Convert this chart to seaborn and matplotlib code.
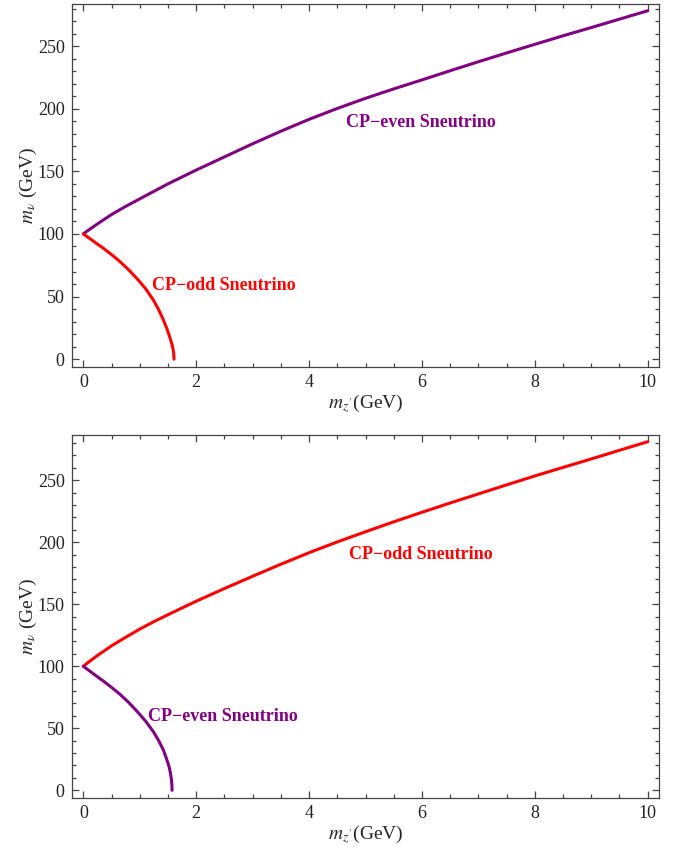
import numpy as np
import pandas as pd
import seaborn as sns
import matplotlib.pyplot as plt
from matplotlib.ticker import MultipleLocator

# top panel: CP-even goes up, CP-odd goes down
top_even_x = [0, 0.1, 0.25, 0.5, 0.75, 1, 1.25, 1.5, 1.75, 2, 2.5, 3, 3.5, 4, 4.5, 5,
              5.5, 6, 6.5, 7, 7.5, 8, 8.5, 9, 9.5, 10]
top_even_y = [100, 103.3, 108, 115.5, 122, 128, 134, 140, 145.5, 151, 161.5, 172, 182,
              191.5, 200.2, 208.3, 215.8, 223, 230.3, 237.5, 244.5, 251.4, 258.2, 264.8,
              271.5, 278.2]
top_odd_x = [0, 0.1, 0.2, 0.354, 0.5, 0.65, 0.8, 0.946, 1.1, 1.24, 1.33, 1.418, 1.48,
             1.536, 1.57, 1.59, 1.60, 1.605, 1.607]
top_odd_y = [100, 96.8, 93.5, 88.6, 83.5, 77.9, 71.5, 64.6, 56.5, 47.3, 40, 31.4, 24.5,
             17, 12, 8, 5, 2.5, 0]

# bottom panel: CP-odd goes up, CP-even goes down
bot_odd_x = [0, 0.1, 0.25, 0.5, 0.75, 1, 1.25, 1.5, 2, 2.5, 3, 3.5, 4, 4.5, 5, 5.5,
             6, 6.5, 7, 7.5, 8, 8.5, 9, 9.5, 10]
bot_odd_y = [100, 103.6, 108.7, 116.5, 123.4, 130, 136, 141.6, 152.5, 162.7, 172.6,
             182.3, 191.6, 200.3, 208.5, 216.5, 224.2, 231.7, 239, 246.3, 253.5, 260.4,
             267.2, 274.2, 281.1]
bot_even_x = [0, 0.1, 0.2, 0.354, 0.5, 0.65, 0.8, 0.946, 1.1, 1.24, 1.33, 1.418, 1.47,
              1.52, 1.545, 1.56, 1.567, 1.571, 1.572]
bot_even_y = [100, 96.6, 93.2, 88.1, 83, 77.4, 71, 64, 56, 47.3, 40.5, 32.5, 26, 19,
              13.5, 9, 5.5, 2.5, 0]

PURPLE = '#800080'
RED = '#ff0000'

sns.set_style("ticks")
plt.rcParams['font.family'] = ['Liberation Serif', 'DejaVu Serif']
plt.rcParams['mathtext.fontset'] = 'stix'

fig = plt.figure(figsize=(6.77, 8.5), dpi=100)
ax1 = fig.add_axes([0.1059, 0.5686, 0.8675, 0.4267])
ax2 = fig.add_axes([0.1059, 0.0615, 0.8675, 0.4267])

def style_axis(ax, ytop):
    ax.set_xlim(-0.206, 10.2)
    ax.set_ylim(-6, ytop)
    ax.xaxis.set_major_locator(MultipleLocator(2))
    ax.xaxis.set_minor_locator(MultipleLocator(0.5))
    ax.yaxis.set_major_locator(MultipleLocator(50))
    ax.yaxis.set_minor_locator(MultipleLocator(10))
    ax.tick_params(which='both', direction='in', top=True, right=True,
                   color='#444444', width=0.9)
    ax.tick_params(which='major', length=5, labelsize=13, pad=5, labelcolor='#222222')
    ax.tick_params(which='minor', length=2.8)
    for s in ax.spines.values():
        s.set_color('#444444')
        s.set_linewidth(0.9)
    ax.set_ylabel(r'$m_{\nu}$ (GeV)', fontsize=14, labelpad=-1)
    ax.set_xlabel(r"$m_{z^{\prime}}$(GeV)", fontsize=14, labelpad=1)

sns.lineplot(x=top_even_x, y=top_even_y, color=PURPLE, lw=2.2, ax=ax1, sort=False)
sns.lineplot(x=top_odd_x, y=top_odd_y, color=RED, lw=2.2, ax=ax1, sort=False)
style_axis(ax1, 283.6)
ax1.text(4.65, 188.6, 'CP\u2212even Sneutrino', color=PURPLE, fontsize=13,
         fontweight='bold', va='center', ha='left')
ax1.text(1.21, 58.7, 'CP\u2212odd Sneutrino', color=RED, fontsize=13,
         fontweight='bold', va='center', ha='left')

sns.lineplot(x=bot_odd_x, y=bot_odd_y, color=RED, lw=2.2, ax=ax2, sort=False)
sns.lineplot(x=bot_even_x, y=bot_even_y, color=PURPLE, lw=2.2, ax=ax2, sort=False)
style_axis(ax2, 286.5)
ax2.text(4.70, 189.8, 'CP\u2212odd Sneutrino', color=RED, fontsize=13,
         fontweight='bold', va='center', ha='left')
ax2.text(1.15, 59.4, 'CP\u2212even Sneutrino', color=PURPLE, fontsize=13,
         fontweight='bold', va='center', ha='left')

fig.savefig('out.png', dpi=100)
